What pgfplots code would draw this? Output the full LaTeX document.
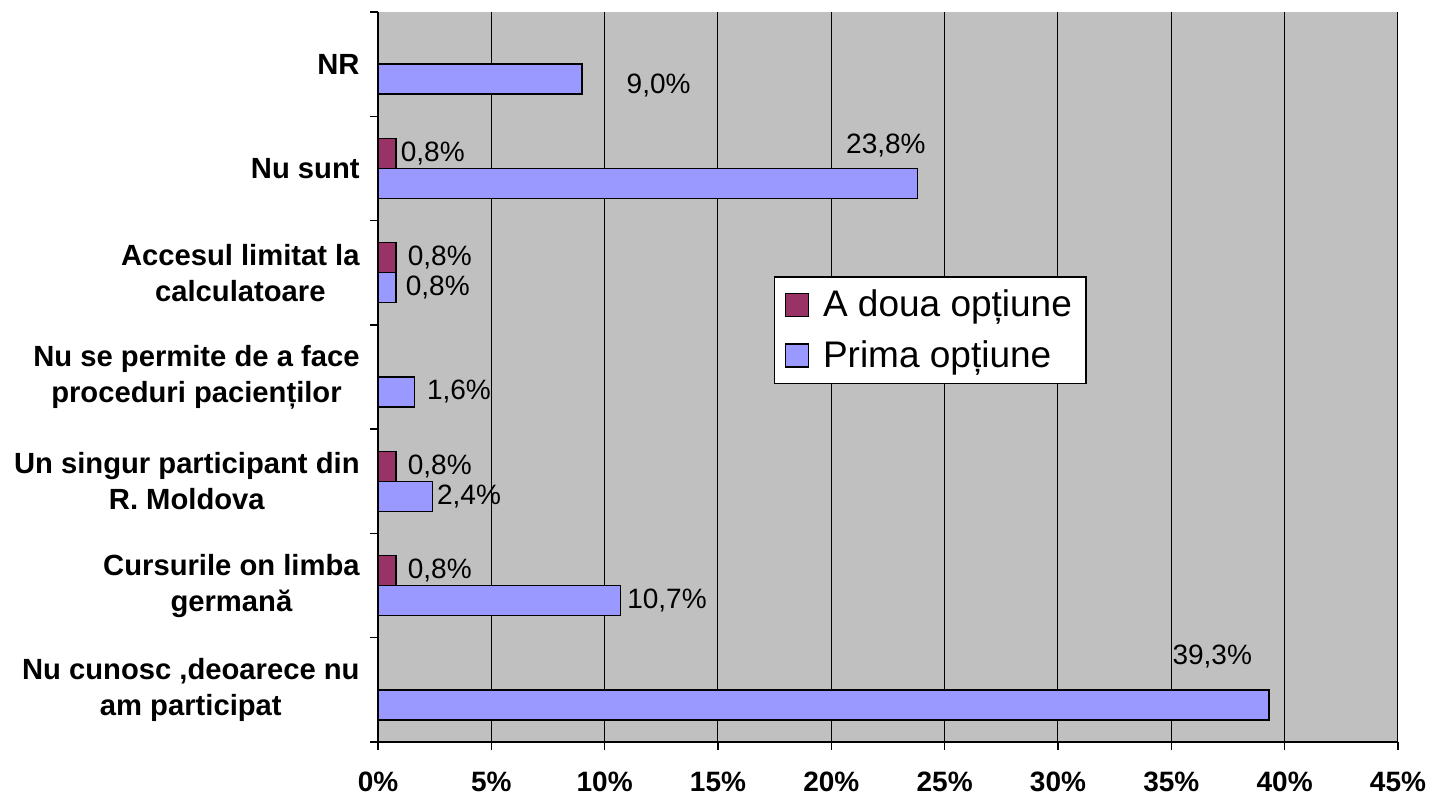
\documentclass[border=0pt]{standalone}
\usepackage{fontspec}
\setmainfont{Liberation Sans}
\usepackage{pgfplots}
\usepackage{pgfplotstable}
\pgfplotsset{compat=1.18}
\definecolor{bgray}{HTML}{C0C0C0}
\definecolor{maroonbar}{HTML}{993366}
\definecolor{lavbar}{HTML}{9999FF}

% y index: 0 Nu cunosc, 1 Cursurile, 2 Un singur, 3 Nu se permite, 4 Accesul, 5 Nu sunt, 6 NR
\pgfplotstableread{
x y dx dy
0.8 5 1 7.5
0.8 4 4.5 7.5
0.8 2 4.5 7.5
0.8 1 4.5 7.5
}\adoua
\pgfplotstableread{
x y dx dy
9.0 6 21 -10.5
23.8 5 -37 11.5
0.8 4 3.5 -7.5
1.6 3 5 -7.5
2.4 2 1 -7.5
10.7 1 2 -7.5
39.3 0 -49.5 16.5
}\prima

\pgfplotsset{
  mylegend/.style={legend image code/.code={\draw[##1, draw=black, line width=0.75pt] (0pt,-5.75pt) rectangle (11.5pt,5.75pt);}},
  mylabels/.style={
    point meta=x,
    visualization depends on={\thisrow{dx} \as \dx},
    visualization depends on={\thisrow{dy} \as \dy},
    nodes near coords={\pgfmathprintnumber[fixed, fixed zerofill, precision=1, use comma, assume math mode=true]{\pgfplotspointmeta}\%},
    nodes near coords style={anchor=west, inner sep=1pt, xshift=\dx pt, yshift=\dy pt, font=\fontsize{14}{16}\selectfont, text=black},
  },
}

\begin{document}
\begin{tikzpicture}
\begin{axis}[
  name=ax, scale only axis, width=510pt, height=365pt,
  xmin=0, xmax=45, ymin=-0.5, ymax=6.5,
  axis background/.style={fill=bgray},
  axis x line*=bottom, axis y line*=left,
  axis line style={-, black, line width=0.75pt},
  tick align=outside, major tick length=4pt,
  tick style={black, line width=0.75pt},
  xtick={0,5,...,45},
  xticklabels={0\%,5\%,10\%,15\%,20\%,25\%,30\%,35\%,40\%,45\%},
  xticklabel style={font=\bfseries\fontsize{14}{16}\selectfont, inner sep=0pt, yshift=-11pt},
  xmajorgrids, major grid style={black, line width=0.5pt},
  ytick={-0.5,0.5,...,6.5}, yticklabels={},
  extra y ticks={0,1,2,3,4,5,6},
  extra y tick labels={{Nu cunosc ,deoarece nu\\am participat},{Cursurile on limba\\germană},{Un singur participant din\\R. Moldova},{Nu se permite de a face\\proceduri pacienților},{Accesul limitat la\\calculatoare},{Nu sunt},{NR}},
  extra y tick style={major tick length=0pt, tick style={draw=none}},
  yticklabel style={font=\bfseries\fontsize{14.6}{18}\selectfont, align=center, inner sep=0pt, xshift=-9pt},
  legend style={at={(rel axis cs:0.388,0.638)}, anchor=north west, draw=black, fill=white, line width=0.75pt,
    font=\fontsize{18.5}{21}\selectfont, inner xsep=5pt, inner ysep=4.5pt, row sep=6.5pt,
    /tikz/every odd column/.append style={column sep=5pt}},
  legend cell align=left,
  clip=false,
]
\addplot[xbar, bar width=15pt, bar shift=7.5pt, fill=maroonbar, draw=black, line width=0.75pt, mylegend, mylabels]
  table[x=x, y=y] {\adoua};
\addlegendentry{A doua opțiune}
\addplot[xbar, bar width=15pt, bar shift=-7.5pt, fill=lavbar, draw=black, line width=0.75pt, mylegend, mylabels]
  table[x=x, y=y] {\prima};
\addlegendentry{Prima opțiune}
\end{axis}
\pgfresetboundingbox
\path[use as bounding box] ([shift={(-189pt,-27pt)}]ax.south west) rectangle ([shift={(22pt,6pt)}]ax.north east);
\end{tikzpicture}
\end{document}
